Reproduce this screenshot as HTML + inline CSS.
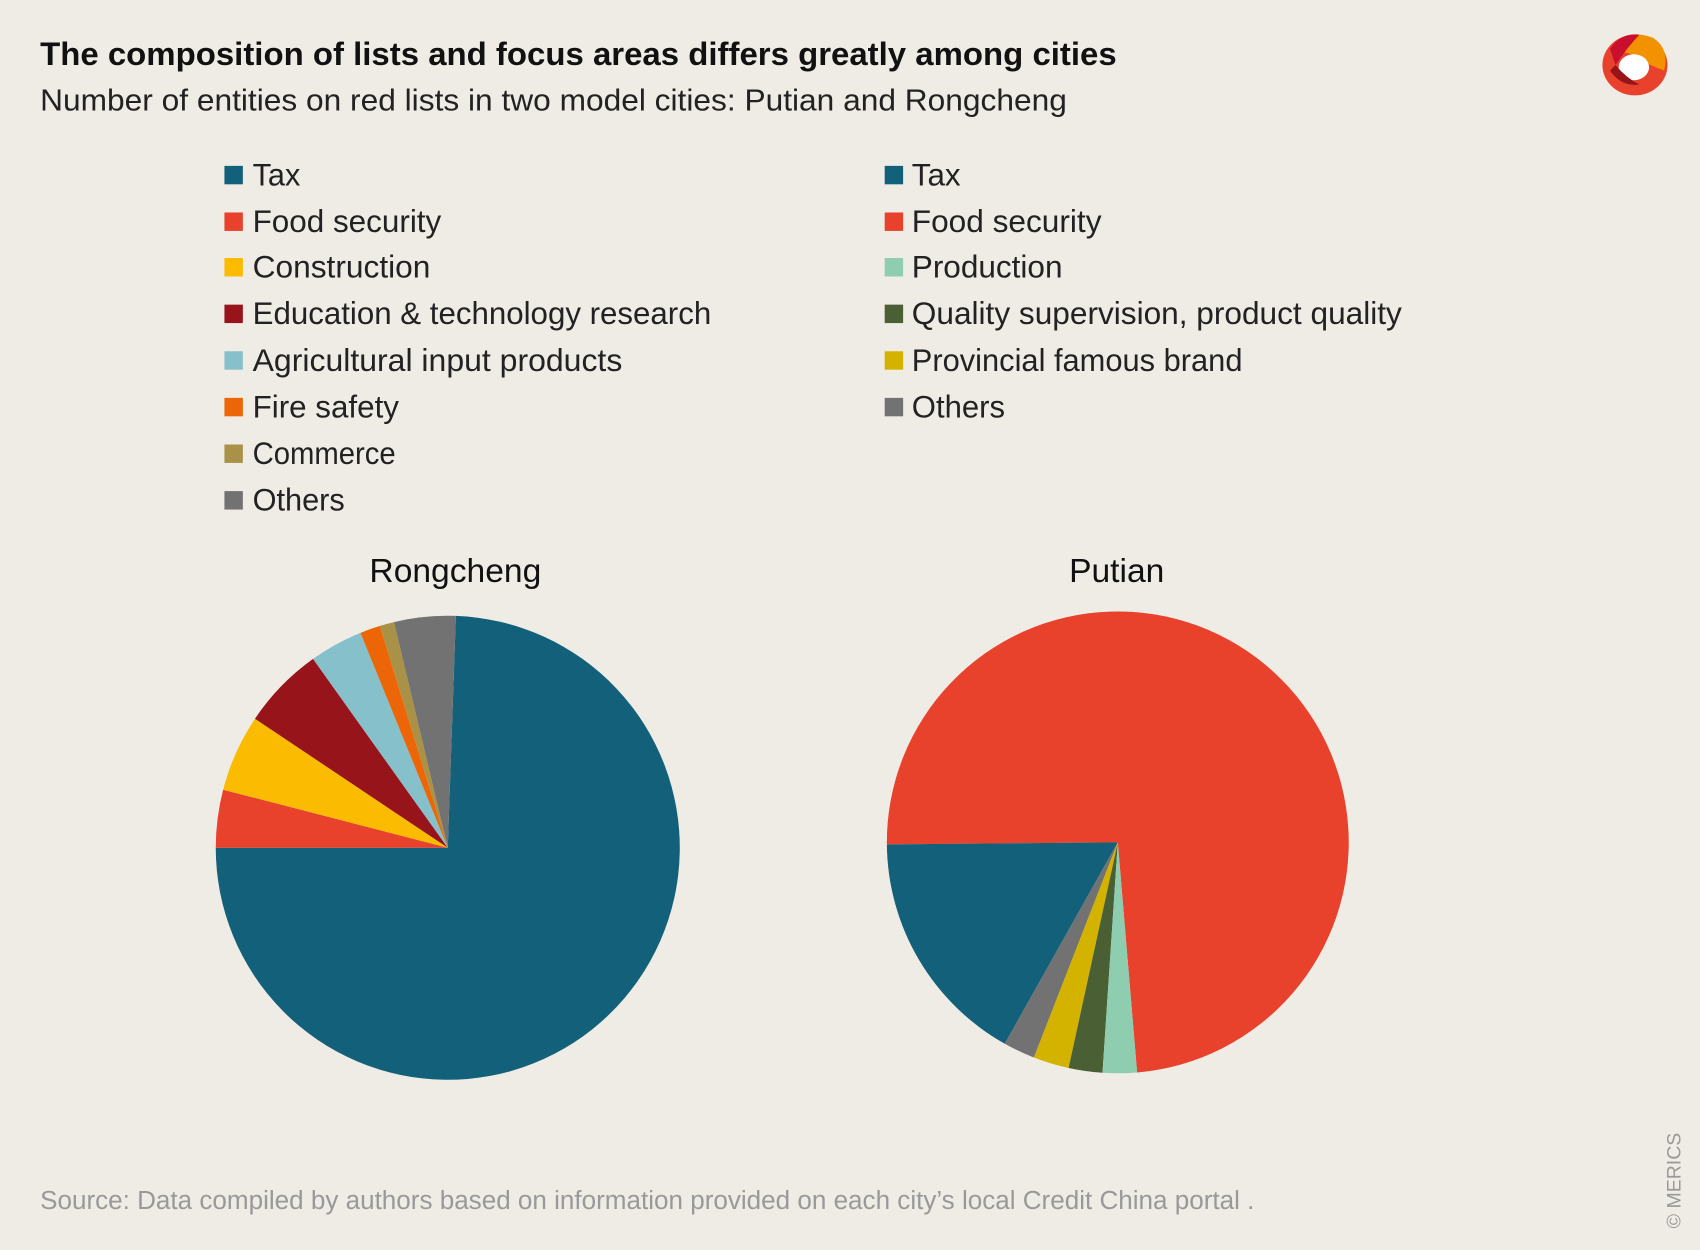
<!DOCTYPE html>
<html><head><meta charset="utf-8"><style>
html,body{margin:0;padding:0;background:#efebe5;}
svg{display:block;}
text{font-family:"Liberation Sans",sans-serif;}
</style></head><body>
<svg id="s" width="1700" height="1250" viewBox="0 0 1568 1153" preserveAspectRatio="none" xmlns="http://www.w3.org/2000/svg">
<rect width="1568" height="1153" fill="#efebe5"/>
<text x="37" y="60" font-size="30" font-weight="bold" fill="#111" textLength="993" lengthAdjust="spacingAndGlyphs">The composition of lists and focus areas differs greatly among cities</text>
<text x="37" y="102" font-size="28" fill="#222" textLength="947" lengthAdjust="spacingAndGlyphs">Number of entities on red lists in two model cities: Putian and Rongcheng</text>
<g id="leg"></g>
<text x="420" y="537" font-size="31" fill="#111" text-anchor="middle">Rongcheng</text>
<text x="1030" y="537" font-size="31" fill="#111" text-anchor="middle">Putian</text>
<g id="pies"></g>
<text x="37" y="1115" font-size="24" fill="#999" textLength="1120" lengthAdjust="spacingAndGlyphs">Source: Data compiled by authors based on information provided on each city’s local Credit China portal .</text>
<text transform="translate(1550,1133) rotate(-90)" font-size="18" fill="#999">© MERICS</text>
<g>
<ellipse cx="1508" cy="60" rx="30" ry="28" fill="#e8412c"/>
<path d="M1485 45 Q1500 25 1525 35 Q1540 45 1535 65 Q1520 60 1505 50 Z" fill="#f39200"/>
<path d="M1485 45 Q1495 30 1512 32 Q1500 45 1490 60 Z" fill="#c8102e"/>
<ellipse cx="1507" cy="62" rx="14" ry="12" fill="#fff"/>
<path d="M1485 65 Q1495 80 1512 78 Q1500 72 1490 60 Z" fill="#98141b"/>
</g>
</svg>
<script>
var NS="http://www.w3.org/2000/svg";
function el(t,a,p){var e=document.createElementNS(NS,t);for(var k in a)e.setAttribute(k,a[k]);p.appendChild(e);return e;}
var C={tax:"#12607a",food:"#e8412c",cons:"#fbbb00",edu:"#98141b",agri:"#86c0ca",fire:"#ec6608",com:"#a99248",oth:"#727272",prod:"#8ecdb0",qual:"#4a5f33",prov:"#d4b300"};
var leg=document.getElementById("leg");
var L=[["tax","Tax",44],["food","Food security",174],["cons","Construction",164],["edu","Education & technology research",423],["agri","Agricultural input products",341],["fire","Fire safety",135],["com","Commerce",132],["oth","Others",85]];
var R=[["tax","Tax",45],["food","Food security",175],["prod","Production",139],["qual","Quality supervision, product quality",452],["prov","Provincial famous brand",305],["oth","Others",86]];
var ys=[161,204,246,289,332,375,418,461];
function drawLeg(list,sx,tx){list.forEach(function(r,i){var y=ys[i];el("rect",{x:sx,y:y-8,width:17,height:17,fill:C[r[0]]},leg);var t=el("text",{x:tx,y:y+10,"font-size":29,fill:"#222",textLength:r[2],lengthAdjust:"spacingAndGlyphs"},leg);t.textContent=r[1];});}
drawLeg(L,207,233);drawLeg(R,816,841);
var pies=document.getElementById("pies");
function slice(cx,cy,r,a0,a1,col){var p=Math.PI/180;var x0=cx+r*Math.cos(a0*p),y0=cy+r*Math.sin(a0*p),x1=cx+r*Math.cos(a1*p),y1=cy+r*Math.sin(a1*p);var lg=(a1-a0)>180?1:0;el("path",{d:"M"+cx+" "+cy+"L"+x0+" "+y0+"A"+r+" "+r+" 0 "+lg+" 1 "+x1+" "+y1+"Z",fill:col},pies);}
var rc=[[-88,180,"tax"],[180,194.5,"food"],[194.5,213.8,"cons"],[213.8,234.5,"edu"],[234.5,247.9,"agri"],[247.9,253,"fire"],[253,256.6,"com"],[256.6,272,"oth"]];
rc.forEach(function(s){slice(413,782,214,s[0],s[1],C[s[2]]);});
var pt=[[179.5,445.2,"food"],[119.3,179.5,"tax"],[111.3,119.3,"oth"],[102.3,111.3,"prov"],[93.8,102.3,"qual"],[85.2,93.8,"prod"]];
pt.forEach(function(s){slice(1031,777,213,s[0],s[1],C[s[2]]);});
</script>
</body></html>
